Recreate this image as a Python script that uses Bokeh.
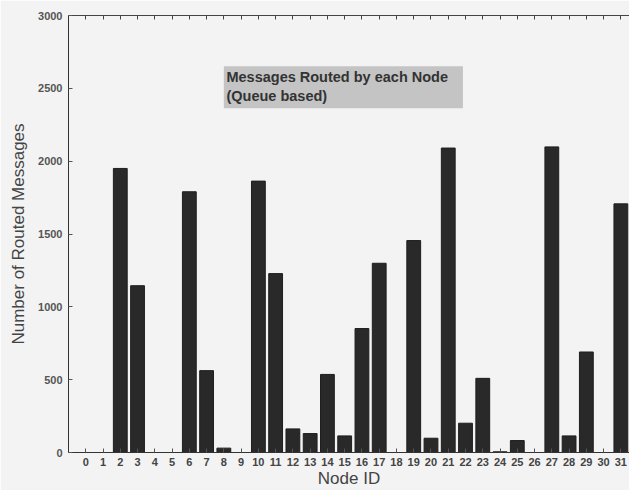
from bokeh.plotting import figure
from bokeh.models import LinearAxis, FixedTicker, CustomJSTickFormatter, Range1d, Label, BoxAnnotation
from bokeh.embed import file_html
from bokeh.resources import INLINE

nodes = list(range(32))
messages = [0, 0, 1950, 1145, 0, 0, 1790, 562, 30, 0,
            1863, 1228, 162, 130, 536, 114, 851, 1299, 0, 1455,
            98, 2090, 201, 509, 5, 82, 0, 2098, 114, 690,
            0, 1707]
y_ticks = [0, 500, 1000, 1500, 2000, 2500, 3000]
title_lines = ["Messages Routed by each Node", " (Queue based)"]

BG = "#f3f3f3"
p = figure(width=629, height=490, output_backend="svg", toolbar_location=None,
           x_range=Range1d(-1, 31.5), y_range=Range1d(0, 3000),
           x_axis_location=None, y_axis_location=None,
           min_border_left=68, min_border_right=0, min_border_top=15, min_border_bottom=37)
p.background_fill_color = BG
p.border_fill_color = BG
p.outline_line_color = None
p.xgrid.visible = False
p.ygrid.visible = False

p.vbar(x=nodes, top=messages, width=0.8, bottom=0, fill_color="#292929", line_color="#1e1e1e")

font = "Liberation Sans"
xb = LinearAxis(ticker=FixedTicker(ticks=nodes), axis_label="Node ID")
xb.major_tick_in = 4
xb.major_tick_out = 0
xb.minor_tick_line_color = None
xb.axis_line_color = "#333333"
xb.major_tick_line_color = "#555555"
xb.major_label_text_font = font
xb.major_label_text_font_style = "bold"
xb.major_label_text_font_size = "11px"
xb.major_label_text_color = "#444444"
xb.major_label_standoff = 5
xb.axis_label_text_font = font
xb.axis_label_text_font_style = "normal"
xb.axis_label_text_font_size = "17px"
xb.axis_label_text_color = "#444444"
xb.axis_label_standoff = 0
p.add_layout(xb, "below")

xt = LinearAxis(ticker=FixedTicker(ticks=nodes), formatter=CustomJSTickFormatter(code="return ''"))
xt.major_tick_in = 4
xt.major_tick_out = 0
xt.minor_tick_line_color = None
xt.axis_line_color = "#444444"
xt.major_tick_line_color = "#444444"
xt.major_label_standoff = 0
p.add_layout(xt, "above")

yl = LinearAxis(ticker=FixedTicker(ticks=y_ticks), axis_label="Number of Routed Messages")
yl.major_tick_in = 4
yl.major_tick_out = 0
yl.minor_tick_line_color = None
yl.axis_line_color = "#333333"
yl.major_tick_line_color = "#555555"
yl.major_label_text_font = font
yl.major_label_text_font_style = "bold"
yl.major_label_text_font_size = "11px"
yl.major_label_text_color = "#555555"
yl.major_label_standoff = 6
yl.axis_label_text_font = font
yl.axis_label_text_font_style = "normal"
yl.axis_label_text_font_size = "17px"
yl.axis_label_text_color = "#444444"
yl.axis_label_standoff = 7
p.add_layout(yl, "left")

box = BoxAnnotation(left=8.0, right=21.85, bottom=2363, top=2651,
                    fill_color="#c4c4c4", fill_alpha=1.0, line_color=None)
p.add_layout(box)
p.add_layout(Label(x=8.15, y=2525, text=title_lines[0], text_font=font, text_font_style="bold",
                   text_font_size="14.5px", text_color="#333333"))
p.add_layout(Label(x=8.15, y=2390, text=title_lines[1], text_font=font, text_font_style="bold",
                   text_font_size="14.5px", text_color="#333333"))

open("out.html", "w").write(file_html(p, INLINE))
